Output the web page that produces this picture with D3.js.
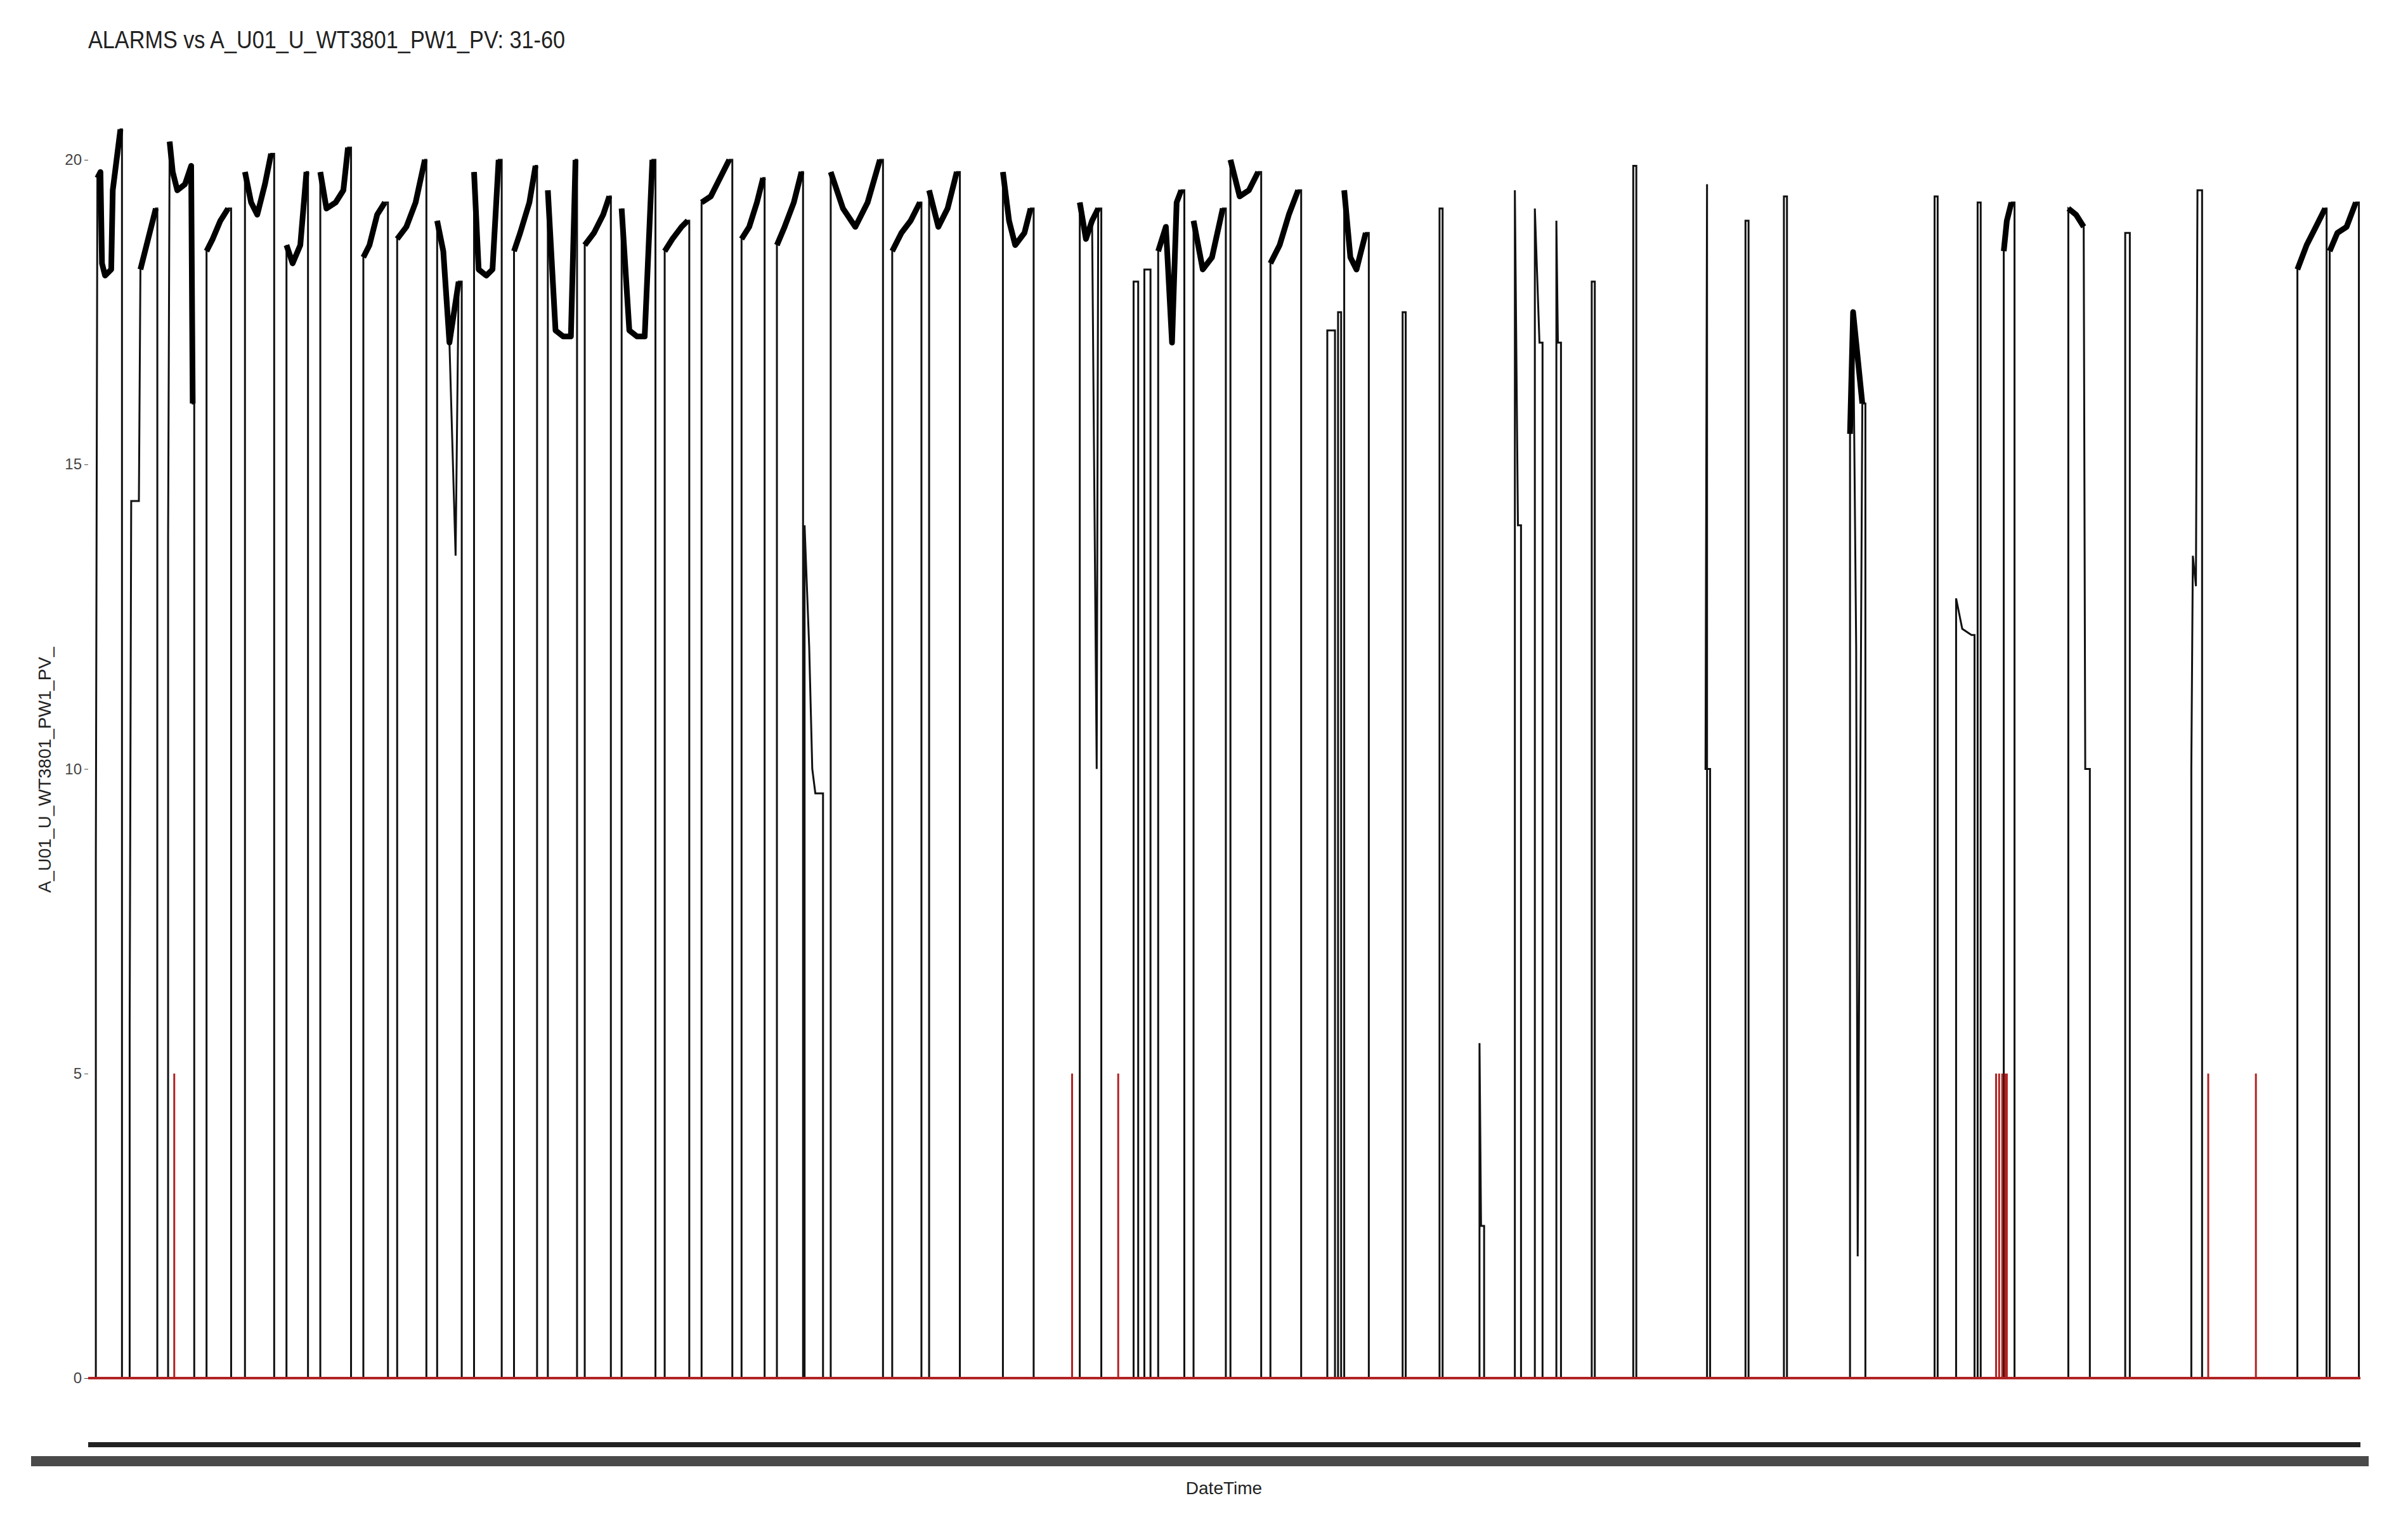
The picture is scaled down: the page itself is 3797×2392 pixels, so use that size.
<!DOCTYPE html>
<html><head><meta charset="utf-8">
<script src="https://cdn.jsdelivr.net/npm/d3@7"></script>
<style>body{margin:0;background:#fff}text{font-family:"Liberation Sans Narrow","Liberation Sans",Arial,sans-serif}</style>
</head><body><svg id="c" width="3797" height="2392"></svg>
<script>
const title = "ALARMS vs A_U01_U_WT3801_PW1_PV: 31-60";
const yTicks = [0,5,10,15,20];
const timeRange = [57,1535];
// each cycle: start time, plateau points [time, value], end time
const cycleStart = [62,84,109,134,159,186,208,236,258,284,308,334,356,380,404,432,456,482,505,523,540,580,604,652,702,737,744,753,776,800,826,863,870,874,912,936,962,985,998,1012,1035,1062,1110,1135,1160,1203,1258,1272,1286,1303,1345,1382,1425,1494,1515];
const cyclePlateau = [
 [[62,8.5],[63,19.7],[65,19.8],[66,18.3],[68,18.1],[72,18.2],[73,19.5],[76,20.1],[78,20.5]],
 [[84,5.8],[85,14.4],[90,14.4],[91,18.2],[96,18.7],[101,19.2]],
 [[109,13.8],[110,20.3],[112,19.8],[115,19.5],[120,19.6],[124,19.9],[125,16.0]],
 [[134,18.5],[138,18.7],[143,19.0],[148,19.2]],
 [[159,19.8],[163,19.3],[167,19.1],[172,19.6],[176,20.1]],
 [[186,18.6],[190,18.3],[195,18.6],[199,19.8]],
 [[208,19.8],[212,19.2],[218,19.3],[223,19.5],[226,20.2]],
 [[236,18.4],[240,18.6],[245,19.1],[250,19.3]],
 [[258,18.7],[264,18.9],[270,19.3],[276,20.0]],
 [[284,19.0],[288,18.5],[292,17.0],[296,13.5],[298,18.0]],
 [[308,19.8],[311,18.2],[316,18.1],[320,18.2],[324,20.0]],
 [[334,18.5],[338,18.8],[344,19.3],[348,19.9]],
 [[356,19.5],[361,17.2],[366,17.1],[371,17.1],[374,20.0]],
 [[380,18.6],[386,18.8],[392,19.1],[396,19.4]],
 [[404,19.2],[409,17.2],[414,17.1],[419,17.1],[424,20.0]],
 [[432,18.5],[437,18.7],[443,18.9],[447,19.0]],
 [[456,19.3],[462,19.4],[468,19.7],[474,20.0]],
 [[482,18.7],[487,18.9],[492,19.3],[496,19.7]],
 [[505,18.6],[510,18.9],[516,19.3],[521,19.8]],
 [[523,14.0],[526,12.0],[528,10.0],[530,9.6]],
 [[540,19.8],[548,19.2],[556,18.9],[564,19.3],[572,20.0]],
 [[580,18.5],[586,18.8],[592,19.0],[598,19.3]],
 [[604,19.5],[610,18.9],[616,19.2],[622,19.8]],
 [[652,19.8],[656,19.0],[660,18.6],[666,18.8],[670,19.2]],
 [[702,19.3],[706,18.7],[710,19.0],[713,10.0],[714,19.2]],
 [[737,18.0]],
 [[744,18.2]],
 [[753,18.5],[758,18.9],[762,17.0],[765,19.3],[768,19.5]],
 [[776,19.0],[782,18.2],[788,18.4],[795,19.2]],
 [[800,20.0],[806,19.4],[812,19.5],[818,19.8]],
 [[826,18.3],[832,18.6],[838,19.1],[844,19.5]],
 [[863,17.2]],
 [[870,17.5]],
 [[874,19.5],[878,18.4],[882,18.2],[888,18.8]],
 [[912,17.5]],
 [[936,19.2]],
 [[962,5.5],[963,2.5]],
 [[985,19.5],[987,14.0]],
 [[998,19.2],[1001,17.0]],
 [[1012,19.0],[1013,17.0]],
 [[1035,18.0]],
 [[1062,19.9]],
 [[1110,19.6],[1109,10.0]],
 [[1135,19.0]],
 [[1160,19.4]],
 [[1203,15.5],[1205,17.5],[1207,12.0],[1208,2.0],[1211,16.0]],
 [[1258,19.4]],
 [[1272,12.8],[1276,12.3],[1282,12.2]],
 [[1286,19.3]],
 [[1303,18.5],[1305,19.0],[1308,19.3]],
 [[1345,19.2],[1350,19.1],[1355,18.9],[1356,10.0]],
 [[1382,18.8]],
 [[1425,10.0],[1426,13.5],[1428,13.0],[1429,19.5]],
 [[1494,18.2],[1500,18.6],[1506,18.9],[1512,19.2]],
 [[1515,18.5],[1520,18.8],[1526,18.9],[1532,19.3]]
];
const cycleEnd = [79,102,126,150,178,200,228,252,277,300,326,349,375,397,426,448,476,497,522,535,574,599,624,672,716,740,748,770,797,820,846,868,872,890,914,938,965,989,1003,1015,1037,1064,1112,1137,1162,1213,1260,1284,1288,1310,1359,1385,1432,1513,1534];
const alarmTimes = [113,697,727,1298,1300,1302,1304,1305,1436,1467];
const alarmValue = 5;

const L = 139, R = 3722;
const svg = d3.select("#c");
const x = d3.scaleLinear().domain(timeRange).range([L,R]);
const y = d3.scaleLinear().domain([0,20]).range([2173,252]);

svg.append("text").attr("x",139).attr("y",76).attr("font-size",38).attr("fill","#222")
  .attr("textLength",752).attr("lengthAdjust","spacingAndGlyphs").text(title);

const ax = svg.append("g").attr("transform",`translate(${L},0)`).call(d3.axisLeft(y).tickValues(yTicks).tickSize(6).tickPadding(4));
ax.select(".domain").remove();
ax.selectAll("text").attr("font-size",24).attr("fill","#444");
ax.selectAll("line").attr("stroke","#444");

svg.append("text").attr("transform","translate(80,1214) rotate(-90)").attr("text-anchor","middle").attr("font-size",28).attr("fill","#222").text("A_U01_U_WT3801_PW1_PV_");

const line = d3.line().x(d=>x(d[0])).y(d=>y(d[1]));
const g = svg.append("g");
cycleStart.forEach((s,i)=>{
  const pts = [[s,0],...cyclePlateau[i],[cycleEnd[i],cyclePlateau[i][cyclePlateau[i].length-1][1]],[cycleEnd[i],0]];
  g.append("path").attr("d",line(pts)).attr("fill","none").attr("stroke","#111").attr("stroke-width",3);
  if(cyclePlateau[i].length>2){
    const top = cyclePlateau[i].filter(p=>p[1]>15);
    if(top.length>1) g.append("path").attr("d",line(top)).attr("fill","none").attr("stroke","#000").attr("stroke-width",9).attr("stroke-linejoin","round");
  }
});
svg.append("line").attr("x1",x(timeRange[0])).attr("x2",x(timeRange[1])).attr("y1",y(0)).attr("y2",y(0)).attr("stroke","#b22222").attr("stroke-width",4);
alarmTimes.forEach(t=>{
  svg.append("line").attr("x1",x(t)).attr("x2",x(t)).attr("y1",y(0)).attr("y2",y(alarmValue)).attr("stroke","#b22222").attr("stroke-width",3);
});

svg.append("rect").attr("x",L).attr("y",2274).attr("width",R-L).attr("height",8).attr("fill","#222");
svg.append("rect").attr("x",49).attr("y",2296).attr("width",3735-49).attr("height",16).attr("fill","#4a4a4a");
svg.append("text").attr("x",1930).attr("y",2356).attr("text-anchor","middle").attr("font-size",28).attr("fill","#222").text("DateTime");
</script></body></html>
